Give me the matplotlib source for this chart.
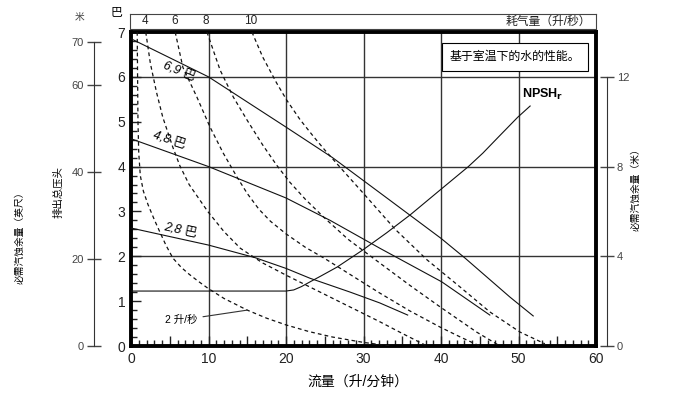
import numpy as np
import matplotlib.pyplot as plt
from matplotlib.ticker import MultipleLocator, FuncFormatter

plt.rcParams['font.family'] = ['Liberation Sans', 'Noto Sans CJK SC', 'DejaVu Sans']

# 排出压力曲线（进气压力 6.9 / 4.8 / 2.8 巴）
flow_69 = [0, 10, 20, 26, 33.4, 40, 43.1, 48.9, 51.9]
head_69 = [6.85, 6.0, 4.88, 4.2, 3.25, 2.4, 1.96, 1.09, 0.67]
flow_48 = [0, 10, 20, 25.7, 32.1, 40.1, 46.3]
head_48 = [4.62, 4.0, 3.3, 2.8, 2.18, 1.43, 0.69]
flow_28 = [0, 10, 16, 20, 23.1, 28.3, 32.1, 35.7]
head_28 = [2.63, 2.25, 1.97, 1.73, 1.51, 1.2, 0.96, 0.69]

# 耗气量曲线（升/秒）
air_2_flow = [0.8, 0.85, 0.9, 1.0, 1.2, 1.6, 2.2, 3.0, 3.7, 4.5, 5.4, 6.5, 7.5, 8.7, 9.9,
              12, 15, 17.5, 20, 23, 26, 30, 33.5]
air_2_head = [7.0, 6.0, 5.0, 4.3, 3.8, 3.45, 3.15, 2.82, 2.55, 2.25, 1.96, 1.75, 1.6, 1.44, 1.29,
              1.06, 0.8, 0.62, 0.47, 0.32, 0.2, 0.08, 0.0]
air_4_flow = [1.9, 2.5, 3.3, 4.1, 5.4, 6.3, 7.5, 8.9, 9.9, 12, 14.1, 17, 20, 25.7, 32, 35, 38.2]
air_4_head = [7.0, 6.3, 5.65, 5.1, 4.43, 4.02, 3.6, 3.25, 3.0, 2.55, 2.18, 1.85, 1.58, 1.09, 0.55, 0.28, 0.0]
air_6_flow = [5.7, 6.7, 8.5, 10.2, 11.9, 13.7, 15, 16.5, 18, 20, 22.5, 25, 28.5, 32.1, 36, 39.9, 42.5, 45]
air_6_head = [7.0, 6.21, 5.55, 4.88, 4.3, 3.76, 3.4, 3.05, 2.78, 2.5, 2.2, 1.95, 1.57, 1.18, 0.78, 0.42, 0.2, 0.0]
air_8_flow = [9.8, 11.5, 13.2, 15, 17, 18.8, 20.5, 22.5, 25, 28, 32.1, 36, 39.9, 44.6, 47.6]
air_8_head = [7.0, 6.15, 5.55, 5.03, 4.48, 4.03, 3.65, 3.27, 2.85, 2.38, 1.85, 1.35, 0.87, 0.31, 0.0]
air_10_flow = [15.6, 17, 18.8, 20.1, 21.8, 23.5, 25, 27, 30, 34.1, 38.2, 42.5, 46.3, 50.2, 53.4]
air_10_head = [7.0, 6.44, 5.86, 5.48, 5.05, 4.68, 4.37, 3.98, 3.4, 2.6, 1.92, 1.31, 0.76, 0.31, 0.05]
air_labels = ['4', '6', '8', '10']

# 必需汽蚀余量（米）
npsh_flow = [0, 20, 21, 22, 23.1, 24.5, 26.6, 29.9, 33, 36, 39.9, 43.5, 45.4, 47.5, 49.9, 51.5]
npsh_m = [2.45, 2.45, 2.5, 2.65, 2.86, 3.12, 3.52, 4.28, 5.05, 5.84, 6.96, 7.99, 8.6, 9.35, 10.2, 10.7]

fig = plt.figure(figsize=(7, 3.98), dpi=100)
ax = fig.add_axes([131 / 700, 1 - 346 / 398, 465 / 700, 314 / 398])
ax.set_xlim(0, 60)
ax.set_ylim(0, 7)

for s in ax.spines.values():
    s.set_linewidth(2.8)
    s.set_color('black')

ax.xaxis.set_major_locator(MultipleLocator(5))
ax.xaxis.set_minor_locator(MultipleLocator(1))
ax.xaxis.set_major_formatter(FuncFormatter(lambda v, p: f'{v:g}' if round(v) % 10 == 0 else ''))
ax.yaxis.set_major_locator(MultipleLocator(1))
ax.yaxis.set_minor_locator(MultipleLocator(0.2))
ax.tick_params(which='major', direction='in', length=7, width=1, labelsize=10, pad=4, colors='#222')
ax.tick_params(which='minor', direction='in', length=4, width=1, colors='#222')

# 网格
for gx in [10, 20, 30, 40, 50]:
    ax.axvline(gx, color='#333', lw=1, zorder=1)
for gy in [2, 4, 6]:
    ax.axhline(gy, color='#333', lw=1, zorder=1)

for fx, hy in [(flow_69, head_69), (flow_48, head_48), (flow_28, head_28)]:
    ax.plot(fx, hy, color='#111', lw=0.8, zorder=3)

air_curves = [(air_2_flow, air_2_head), (air_4_flow, air_4_head), (air_6_flow, air_6_head),
              (air_8_flow, air_8_head), (air_10_flow, air_10_head)]
for fx, hy in air_curves:
    ax.plot(fx, hy, color='#111', lw=0.9, linestyle=(0, (3, 2.5)), zorder=3)

ax.text(6.2, 6.12, '6,9 巴', rotation=-22, fontsize=9, ha='center', va='center', style='italic')
ax.text(4.9, 4.6, '4,8 巴', rotation=-18, fontsize=9, ha='center', va='center', style='italic')
ax.text(6.4, 2.58, '2,8 巴', rotation=-12, fontsize=9, ha='center', va='center', style='italic')

ax.text(49.6, 6.44, '基于室温下的水的性能。', fontsize=8.6, ha='center', va='center',
        bbox=dict(boxstyle='square,pad=0.65', fc='white', ec='black', lw=0.8), zorder=5)

ax.annotate('2 升/秒', xy=(15, np.interp(15, air_2_flow, air_2_head)), xytext=(4.4, 0.58),
            fontsize=7.5, ha='left', va='center',
            arrowprops=dict(arrowstyle='-', lw=0.8, color='#333', shrinkA=2, shrinkB=0))

# 左侧外轴：米
ax_m = ax.twinx()
ax_m.set_ylim(0, 7 * 10.33)
ax_m.yaxis.tick_left()
ax_m.spines['left'].set_visible(True)
ax_m.spines['left'].set_position(('outward', 27))
ax_m.spines['left'].set_bounds(0, 70)
ax_m.spines['left'].set_color('#333')
for s in ['top', 'right', 'bottom']:
    ax_m.spines[s].set_visible(False)
ax_m.set_yticks([0, 20, 40, 60, 70])
ax_m.tick_params(axis='y', direction='inout', length=10, width=1, labelsize=8, colors='#444', pad=2)

# 右侧外轴：必需汽蚀余量（米）
ax_n = ax.twinx()
ax_n.set_ylim(0, 14)
ax_n.spines['right'].set_position(('outward', 8))
ax_n.spines['right'].set_bounds(0, 12)
ax_n.spines['right'].set_color('#333')
for s in ['top', 'left', 'bottom']:
    ax_n.spines[s].set_visible(False)
ax_n.set_yticks([0, 4, 8, 12])
ax_n.tick_params(axis='y', direction='inout', length=10, width=1, labelsize=8, colors='#444', pad=2)
ax_n.plot(npsh_flow, npsh_m, color='#111', lw=0.8)
ax_n.text(50.4, 11.2, r'NPSH$_{\mathbf{r}}$', fontsize=9, fontweight='bold', ha='left', va='center')

# 顶部耗气量标尺
ax_top = fig.add_axes([130 / 700, 1 - 29 / 398, 466 / 700, 15 / 398])
ax_top.set_xlim(0, 60)
ax_top.set_xticks([])
ax_top.set_yticks([])
for s in ax_top.spines.values():
    s.set_linewidth(0.8)
    s.set_color('#444')
for (fx, hy), lab in zip(air_curves[1:], air_labels):
    ax_top.text(fx[0], 0.5, lab, transform=ax_top.get_xaxis_transform(),
                fontsize=8.5, ha='center', va='center', color='#222')
ax_top.text(0.99, 0.5, '耗气量（升/秒）', transform=ax_top.transAxes, fontsize=8.5,
            ha='right', va='center', color='#222')

fig.text(116 / 700, 1 - 13 / 398, '巴', fontsize=8.5, ha='center', va='center')
fig.text(80 / 700, 1 - 17 / 398, '米', fontsize=7, ha='center', va='center', color='#444')
fig.text(58 / 700, 1 - 192 / 398, '排出总压头', rotation=90, fontsize=7.5, ha='center', va='center')
fig.text(20 / 700, 1 - 235 / 398, '必需汽蚀余量（英尺）', rotation=90, fontsize=7, ha='center', va='center')
fig.text(636 / 700, 1 - 187 / 398, '必需汽蚀余量（米）', rotation=90, fontsize=7, ha='center', va='center')
fig.text(358 / 700, 1 - 382 / 398, '流量（升/分钟）', fontsize=10, ha='center', va='center')

fig.savefig('out.png', dpi=100)
